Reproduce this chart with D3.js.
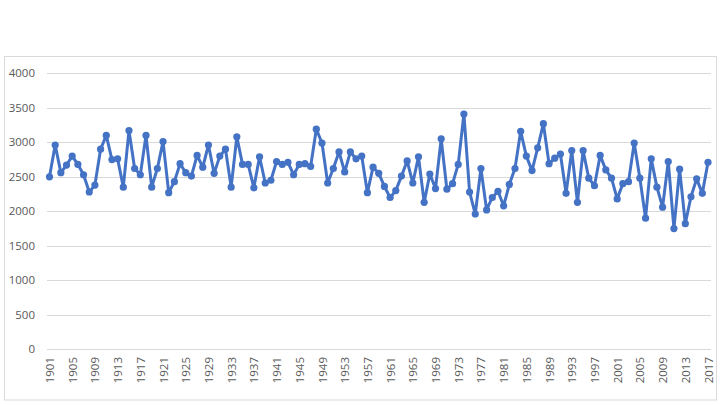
<!DOCTYPE html>
<html>
<head>
<meta charset="utf-8">
<script src="https://cdn.jsdelivr.net/npm/d3@7"></script>
<style>
  html, body { margin: 0; padding: 0; background: #fff; }
  svg { display: block; }
</style>
</head>
<body>
<svg id="chart" width="720" height="405"></svg>
<script>
// yearly values 1901..2017
const years = d3.range(1901, 2018);
const values = [
  2500, 2960, 2560, 2670, 2800, 2680, 2530, 2280, 2380, 2900,
  3100, 2750, 2760, 2350, 3170, 2620, 2530, 3100, 2350, 2620,
  3010, 2270, 2430, 2690, 2560, 2510, 2810, 2640, 2960, 2550,
  2800, 2900, 2350, 3080, 2680, 2680, 2340, 2790, 2410, 2450,
  2720, 2680, 2710, 2530, 2680, 2690, 2650, 3190, 2990, 2410,
  2620, 2860, 2570, 2860, 2760, 2800, 2270, 2640, 2550, 2360,
  2200, 2300, 2510, 2730, 2410, 2790, 2130, 2540, 2330, 3050,
  2320, 2400, 2680, 3410, 2280, 1960, 2620, 2020, 2200, 2290,
  2080, 2390, 2620, 3160, 2800, 2590, 2920, 3270, 2690, 2770,
  2830, 2260, 2880, 2130, 2880, 2480, 2370, 2810, 2600, 2480,
  2180, 2400, 2430, 2990, 2480, 1900, 2760, 2350, 2060, 2720,
  1750, 2610, 1820, 2210, 2470, 2260, 2710
];
const yTicks = [0, 500, 1000, 1500, 2000, 2500, 3000, 3500, 4000];
const xTickYears = years.filter((d, i) => i % 4 === 0);

const data = years.map((y, i) => ({year: y, value: values[i]}));

const svg = d3.select('#chart');
const font = '"Open Sans", "Noto Sans", sans-serif';

// chart frame
svg.append('rect')
  .attr('x', 4.5).attr('y', 56.5).attr('width', 712).attr('height', 343.5)
  .attr('fill', 'none').attr('stroke', '#d9d9d9').attr('stroke-width', 1);

let x = d3.scaleLinear().domain([1901, 2017]).range([49.5, 708]);
let y = d3.scaleLinear().domain([0, 4000]).range([349.3, 73.3]);

let grid_left = 47, grid_right = 711;

// gridlines
svg.append('g').attr('class', 'grid')
  .selectAll('line').data(yTicks).enter().append('line')
  .attr('x1', grid_left).attr('x2', grid_right)
  .attr('y1', d => Math.round(y(d)) + 0.5).attr('y2', d => Math.round(y(d)) + 0.5)
  .attr('stroke', '#d9d9d9').attr('stroke-width', 1);

// y axis labels
let yAxis = d3.axisLeft(y).tickValues(yTicks).tickFormat(d3.format('d')).tickSize(0).tickPadding(0);
let gy = svg.append('g').attr('transform', 'translate(35,0)').call(yAxis);
gy.select('.domain').remove();
gy.selectAll('text')
  .attr('font-family', font).attr('font-size', 11.5).attr('fill', '#595959');

// x axis labels, rotated
let xAxis = d3.axisBottom(x).tickValues(xTickYears).tickFormat(d3.format('d')).tickSize(0).tickPadding(0);
let gx = svg.append('g').attr('transform', 'translate(0,357)').call(xAxis);
gx.select('.domain').remove();
gx.selectAll('text')
  .attr('font-family', font).attr('font-size', 11.5).attr('fill', '#595959')
  .attr('text-anchor', 'end').attr('dy', '0.35em').attr('y', 0)
  .attr('transform', 'rotate(-90)');

// series line
let line = d3.line().x(d => x(d.year)).y(d => y(d.value));
svg.append('path').datum(data)
  .attr('d', line)
  .attr('fill', 'none').attr('stroke', '#4472c4')
  .attr('stroke-width', 3).attr('stroke-linejoin', 'round');

svg.append('g').attr('class', 'markers')
  .selectAll('circle').data(data).enter().append('circle')
  .attr('cx', d => x(d.year)).attr('cy', d => y(d.value))
  .attr('r', 3.6).attr('fill', '#4472c4');
</script>
</body>
</html>
